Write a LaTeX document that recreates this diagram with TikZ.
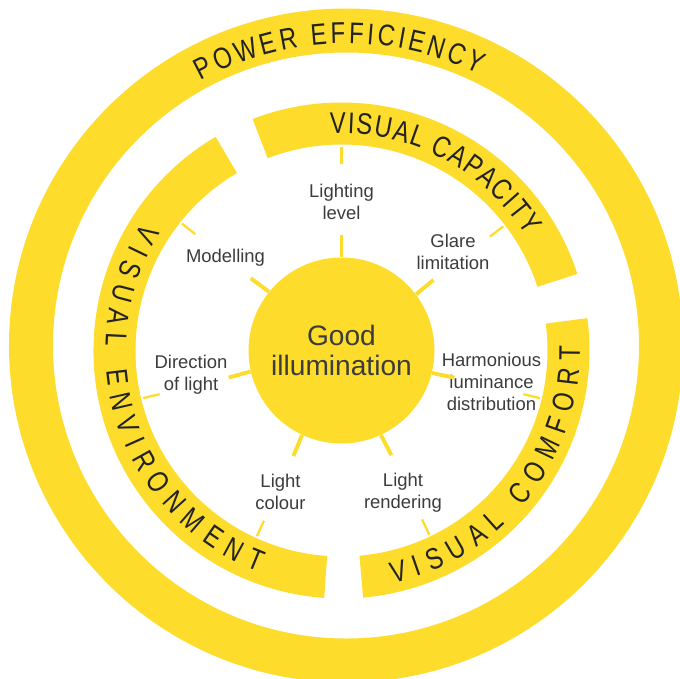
\documentclass[tikz,border=0pt]{standalone}
\usepackage{fontspec}
\setmainfont{Liberation Sans}
\newfontfamily\ringfont{Liberation Sans}[FakeStretch=0.8]
\usetikzlibrary{decorations.text}

\definecolor{sunyellow}{RGB}{253,220,43}
\definecolor{labelgray}{RGB}{60,60,60}
\definecolor{ringink}{RGB}{35,35,35}

\begin{document}
\begin{tikzpicture}[
    ring/.style={fill=sunyellow},
    hub/.style={circle, fill=sunyellow, minimum size=3.72cm, inner sep=0pt, align=center, text=labelgray, font=\fontsize{16}{17}\selectfont},
    factor/.style={align=center, text=labelgray, font=\fontsize{10.5}{12.3}\selectfont},
    spoke/.style={draw=sunyellow, line width=2.2pt},
    notch/.style={draw=sunyellow, line width=1.3pt},
    ringtext/.style={decorate, decoration={text along path, text align={fit to path}, text color=ringink, text={|\ringfont\fontsize{17}{17}\selectfont|#1}}}
]
\useasboundingbox (-6.83,-6.55) rectangle (6.77,7.01);
% Outer ring
\fill[ring, even odd rule] (0.09,0.1) circle (6.74) (0.09,0.1) circle (5.86);
% Middle ring, three segments
\foreach \from/\to in {18/111, 120.5/266, -85/7.5}
  \fill[ring] (\from:4.96) arc[start angle=\from, end angle=\to, radius=4.96]
    -- (\to:4.12) arc[start angle=\to, end angle=\from, radius=4.12] -- cycle;
% Hub
\node[hub] (good) at (0,0) {Good\\illumination};
% Factors
\node[factor] (level) at (0,2.97) {Lighting\\level};
\node[factor] (glare) at (2.23,1.97) {Glare\\limitation};
\node[factor] (modelling) at (-2.32,1.85) {Modelling};
\node[factor] (direction) at (-3.01,-0.49) {Direction\\of light};
\node[factor] (harmony) at (3.0,-0.63) {Harmonious\\luminance\\distribution};
\node[factor] (colour) at (-1.22,-2.83) {Light\\colour};
\node[factor] (rendering) at (1.23,-2.84) {Light\\rendering};
% Spokes and notches
\foreach \ang [count=\i] in {90, 37.5, 346.5, 295.5, 245.5, 193.5, 141.5} {
  \coordinate (tip\i) at (\ang:2.32);
  \coordinate (nin\i) at (\ang:3.74);
  \coordinate (nout\i) at (\ang:4.08);
  \draw[spoke] (good.\ang) -- (tip\i);
  \draw[notch] (nin\i) -- (nout\i);
}
% Ring titles
\path[ringtext={POWER EFFICIENCY}] ([shift={(0.09,0.1)}]118.7:6.04) arc[start angle=118.7, end angle=63.9, radius=6.04];
\path[ringtext={VISUAL CAPACITY}] (93:4.34) arc[start angle=93, end angle=31.8, radius=4.34];
\path[ringtext={VISUAL COMFORT}] (-77.5:4.77) arc[start angle=-77.5, end angle=1, radius=4.77];
\path[ringtext={VISUAL ENVIRONMENT}] (147.3:4.72) arc[start angle=147.3, end angle=249.5, radius=4.72];
\end{tikzpicture}
\end{document}
